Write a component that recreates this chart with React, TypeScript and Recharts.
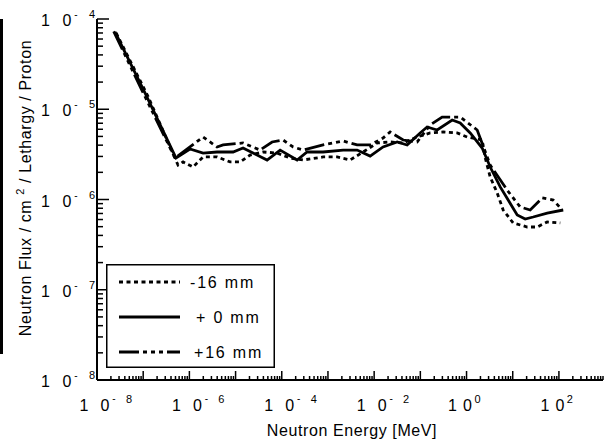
import React from 'react';
import { LineChart, Line, XAxis, YAxis, Legend } from 'recharts';

const FONT = '"Liberation Sans", Arial, Helvetica, sans-serif';

const seriesNames = ['-16 mm', '+ 0 mm', '+16 mm'];

// Neutron energy [MeV] vs flux per lethargy per proton
const fluxMinus16 = [
  { energy: 2.6e-8, flux: 7.0e-5 },
  { energy: 1.28e-7, flux: 1.38e-5 },
  { energy: 5.67e-7, flux: 2.41e-6 },
  { energy: 7.3e-7, flux: 2.61e-6 },
  { energy: 1.2e-6, flux: 2.29e-6 },
  { energy: 1.98e-6, flux: 2.96e-6 },
  { energy: 3.97e-6, flux: 2.96e-6 },
  { energy: 7.6e-6, flux: 2.61e-6 },
  { energy: 1.25e-5, flux: 2.61e-6 },
  { energy: 2.06e-5, flux: 3.11e-6 },
  { energy: 3.94e-5, flux: 3.36e-6 },
  { energy: 7.93e-5, flux: 3.27e-6 },
  { energy: 1.51e-4, flux: 2.88e-6 },
  { energy: 2.9e-4, flux: 2.74e-6 },
  { energy: 7.85e-4, flux: 2.96e-6 },
  { energy: 1.58e-3, flux: 2.96e-6 },
  { energy: 3.02e-3, flux: 2.74e-6 },
  { energy: 5.77e-3, flux: 3.36e-6 },
  { energy: 1.16e-2, flux: 4.23e-6 },
  { energy: 2.22e-2, flux: 4.34e-6 },
  { energy: 4.25e-2, flux: 4.23e-6 },
  { energy: 8.53e-2, flux: 4.93e-6 },
  { energy: 0.163, flux: 5.46e-6 },
  { energy: 0.312, flux: 5.6e-6 },
  { energy: 0.627, flux: 5.46e-6 },
  { energy: 1.03, flux: 4.93e-6 },
  { energy: 2.18, flux: 4.56e-6 },
  { energy: 2.54, flux: 2.88e-6 },
  { energy: 3.25, flux: 1.78e-6 },
  { energy: 4.61, flux: 1.18e-6 },
  { energy: 6.22, flux: 7.65e-7 },
  { energy: 10.2, flux: 5.5e-7 },
  { energy: 20.6, flux: 4.96e-7 },
  { energy: 33.9, flux: 4.96e-7 },
  { energy: 55.8, flux: 5.64e-7 },
  { energy: 107, flux: 5.5e-7 },
];

const fluxZero = [
  { energy: 2.45e-8, flux: 7.18e-5 },
  { energy: 1.1e-7, flux: 1.51e-5 },
  { energy: 5.14e-7, flux: 2.88e-6 },
  { energy: 1.03e-6, flux: 3.63e-6 },
  { energy: 1.98e-6, flux: 3.27e-6 },
  { energy: 3.97e-6, flux: 3.36e-6 },
  { energy: 8.83e-6, flux: 3.36e-6 },
  { energy: 1.45e-5, flux: 3.72e-6 },
  { energy: 2.39e-5, flux: 3.27e-6 },
  { energy: 4.81e-5, flux: 2.74e-6 },
  { energy: 9.21e-5, flux: 3.53e-6 },
  { energy: 2.15e-4, flux: 2.74e-6 },
  { energy: 3.53e-4, flux: 3.36e-6 },
  { energy: 7.85e-4, flux: 3.36e-6 },
  { energy: 2.13e-3, flux: 3.53e-6 },
  { energy: 4.28e-3, flux: 3.53e-6 },
  { energy: 8.18e-3, flux: 3.03e-6 },
  { energy: 1.56e-2, flux: 3.82e-6 },
  { energy: 3.15e-2, flux: 4.34e-6 },
  { energy: 5.18e-2, flux: 4.02e-6 },
  { energy: 9.91e-2, flux: 5.46e-6 },
  { energy: 0.14, flux: 6.36e-6 },
  { energy: 0.231, flux: 5.89e-6 },
  { energy: 0.489, flux: 7.6e-6 },
  { energy: 0.728, flux: 7.05e-6 },
  { energy: 1.2, flux: 5.46e-6 },
  { energy: 2.18, flux: 3.72e-6 },
  { energy: 3.25, flux: 2.29e-6 },
  { energy: 5.36, flux: 1.38e-6 },
  { energy: 12.5, flux: 6.73e-7 },
  { energy: 18.6, flux: 6.08e-7 },
  { energy: 27.7, flux: 6.4e-7 },
  { energy: 55.8, flux: 7.08e-7 },
  { energy: 124, flux: 7.65e-7 },
];

const fluxPlus16 = [
  { energy: 2.3e-8, flux: 7.3e-5 },
  { energy: 9.4e-8, flux: 1.62e-5 },
  { energy: 4.89e-7, flux: 2.88e-6 },
  { energy: 1.03e-6, flux: 3.82e-6 },
  { energy: 1.98e-6, flux: 4.93e-6 },
  { energy: 3.97e-6, flux: 3.82e-6 },
  { energy: 5.36e-6, flux: 4.02e-6 },
  { energy: 1.45e-5, flux: 4.23e-6 },
  { energy: 3.39e-5, flux: 3.53e-6 },
  { energy: 6.17e-5, flux: 4.34e-6 },
  { energy: 1.07e-4, flux: 4.56e-6 },
  { energy: 1.76e-4, flux: 3.82e-6 },
  { energy: 2.9e-4, flux: 3.53e-6 },
  { energy: 7.85e-4, flux: 4.02e-6 },
  { energy: 2.13e-3, flux: 4.45e-6 },
  { energy: 4.28e-3, flux: 4.02e-6 },
  { energy: 8.18e-3, flux: 4.02e-6 },
  { energy: 1.56e-2, flux: 4.8e-6 },
  { energy: 2.22e-2, flux: 5.6e-6 },
  { energy: 4.25e-2, flux: 4.56e-6 },
  { energy: 8.53e-2, flux: 4.34e-6 },
  { energy: 0.163, flux: 6.69e-6 },
  { energy: 0.296, flux: 8.2e-6 },
  { energy: 0.728, flux: 8.2e-6 },
  { energy: 1.7, flux: 5.89e-6 },
  { energy: 3.25, flux: 2.41e-6 },
  { energy: 7.59, flux: 1.27e-6 },
  { energy: 14.5, flux: 8.26e-7 },
  { energy: 23.9, flux: 7.65e-7 },
  { energy: 43.5, flux: 1.04e-6 },
  { energy: 75.3, flux: 9.87e-7 },
  { energy: 118, flux: 7.65e-7 },
];

const xDecades = [-8, -7, -6, -5, -4, -3, -2, -1, 0, 1, 2];
const xLabelExponents = [-8, -6, -4, -2, 0, 2];
const yDecades = [-8, -7, -6, -5, -4];
const minorMultipliers = [2, 3, 4, 5, 6, 7, 8, 9];
const xDomain: [number, number] = [1e-8, 900];
const yDomain: [number, number] = [1e-8, 1e-4];

function buildTicks(decades: number[], max: number) {
  const t: number[] = [];
  decades.forEach((e) => {
    const base = Math.pow(10, e);
    if (base <= max * 1.0001) t.push(base);
    minorMultipliers.forEach((m) => {
      const v = m * base;
      if (v <= max * 1.0001) t.push(v);
    });
  });
  return t;
}
const xTicks = buildTicks(xDecades, xDomain[1]);
const yTicks = buildTicks(yDecades, yDomain[1]);

const seriesStyle: Record<string, { dash?: string }> = {
  '-16 mm': { dash: '4 3.5' },
  '+ 0 mm': { dash: undefined },
  '+16 mm': { dash: '20 4 4 4 4 4 4 4' },
};

function exponentOf(v: number) {
  const l = Math.log10(v);
  const r = Math.round(l);
  return Math.abs(l - r) < 1e-6 ? r : null;
}

function XTick(props: any) {
  const { x, y, payload, side } = props;
  const exp = exponentOf(payload.value);
  const len = exp !== null ? 9 : 4;
  const dir = side === 'bottom' ? -1 : 1;
  const showLabel = side === 'bottom' && exp !== null && xLabelExponents.includes(exp);
  return (
    <g>
      <line x1={x} y1={y} x2={x} y2={y + dir * len} stroke="#000" strokeWidth={1.5} />
      {showLabel && exp !== null && exp < 0 && (
        <g fontFamily={FONT} fill="#000">
          <text x={x - 13} y={y + 31} fontSize={16} textAnchor="middle">1</text>
          <text x={x + 8} y={y + 31} fontSize={16} textAnchor="middle">0</text>
          <text x={x + 17} y={y + 22} fontSize={10} textAnchor="middle">-</text>
          <text x={x + 32} y={y + 23} fontSize={11} textAnchor="middle">{String(-exp)}</text>
        </g>
      )}
      {showLabel && exp !== null && exp >= 0 && (
        <g fontFamily={FONT} fill="#000">
          <text x={x - 14} y={y + 31} fontSize={16} textAnchor="middle">1</text>
          <text x={x + 1} y={y + 31} fontSize={16} textAnchor="middle">0</text>
          <text x={x + 11} y={y + 23} fontSize={11} textAnchor="middle">{String(exp)}</text>
        </g>
      )}
    </g>
  );
}

function YTick(props: any) {
  const { x, y, payload, side } = props;
  const exp = exponentOf(payload.value);
  const len = exp !== null ? 12 : 6;
  const dir = side === 'left' ? 1 : -1;
  const showLabel = side === 'left' && exp !== null;
  return (
    <g>
      <line x1={x} y1={y} x2={x + dir * len} y2={y} stroke="#000" strokeWidth={1.5} />
      {showLabel && exp !== null && (
        <g fontFamily={FONT} fill="#000">
          <text x={x - 51.5} y={y + 7} fontSize={16} textAnchor="middle">1</text>
          <text x={x - 30} y={y + 7} fontSize={16} textAnchor="middle">0</text>
          <text x={x - 21} y={y - 1} fontSize={10} textAnchor="middle">-</text>
          <text x={x - 5} y={y - 1} fontSize={11} textAnchor="middle">{String(-exp)}</text>
        </g>
      )}
    </g>
  );
}

const legendRows = [
  { y: 18, textX: 84 },
  { y: 53, textX: 90 },
  { y: 88, textX: 88 },
];

function renderLegend(props: any) {
  const payload = [...(props.payload || [])].sort(
    (a: any, b: any) => seriesNames.indexOf(a.value) - seriesNames.indexOf(b.value)
  );
  return (
    <svg width={169} height={104} style={{ display: 'block' }}>
      <rect x={0.75} y={0.75} width={167.5} height={102.5} fill="#fff" stroke="#000" strokeWidth={1.5} />
      {payload.map((entry: any, i: number) => {
        const row = legendRows[i] || legendRows[0];
        const st = seriesStyle[entry.value] || {};
        return (
          <g key={entry.value}>
            <line x1={13} y1={row.y} x2={74} y2={row.y} stroke="#000" strokeWidth={2.8} strokeDasharray={st.dash} />
            <text x={row.textX} y={row.y + 6} fontSize={16} fontFamily={FONT} letterSpacing={1.8} fill="#000">
              {entry.value}
            </text>
          </g>
        );
      })}
    </svg>
  );
}

const renderYTitle = () => (
  <text transform="translate(31,188) rotate(-90)" textAnchor="middle" fontFamily={FONT} fontSize={16} letterSpacing={0.6} fill="#000">
    Neutron Flux / cm <tspan dy={-7} fontSize={11}>2</tspan><tspan dy={7}>  / Lethargy / Proton</tspan>
  </text>
);

const renderXTitle = () => (
  <text x={352} y={436} textAnchor="middle" fontFamily={FONT} fontSize={16} letterSpacing={0.6} fill="#000">
    Neutron Energy [MeV]
  </text>
);

const renderPanelTitle = () => (
  <text x={326} y={57} textAnchor="start" fontFamily={FONT} fontSize={17} letterSpacing={1.4} fill="#000">
    Beam Position Dependence
  </text>
);

export default function App() {
  const axisLine = { stroke: '#000', strokeWidth: 2 };
  return (
    <div style={{ position: 'absolute', left: 0, top: 0, width: 606, height: 444, background: '#fff' }}>
      <div style={{ position: 'absolute', left: 0, top: 19, width: 3, height: 335, background: '#000' }} />
      <LineChart width={606} height={444} margin={{ top: 19, right: 3, bottom: 0, left: 0 }}>
        <XAxis
          xAxisId="b"
          type="number"
          dataKey="energy"
          scale="log"
          domain={xDomain}
          allowDataOverflow
          ticks={xTicks}
          interval={0}
          tickSize={0}
          tickMargin={0}
          tickLine={false}
          axisLine={axisLine}
          height={64}
          tick={(p: any) => <XTick {...p} side="bottom" />}
          label={renderXTitle}
        />
        <XAxis
          xAxisId="t"
          orientation="top"
          type="number"
          dataKey="energy"
          scale="log"
          domain={xDomain}
          allowDataOverflow
          ticks={xTicks}
          interval={0}
          tickSize={0}
          tickMargin={0}
          tickLine={false}
          axisLine={axisLine}
          height={0}
          tick={(p: any) => <XTick {...p} side="top" />}
          label={renderPanelTitle}
        />
        <YAxis
          yAxisId="l"
          type="number"
          scale="log"
          domain={yDomain}
          allowDataOverflow
          ticks={yTicks}
          interval={0}
          tickSize={0}
          tickMargin={0}
          tickLine={false}
          axisLine={axisLine}
          width={97}
          tick={(p: any) => <YTick {...p} side="left" />}
          label={renderYTitle}
        />
        <YAxis
          yAxisId="r"
          orientation="right"
          type="number"
          scale="log"
          domain={yDomain}
          allowDataOverflow
          ticks={yTicks}
          interval={0}
          tickSize={0}
          tickMargin={0}
          tickLine={false}
          axisLine={axisLine}
          width={0}
          tick={(p: any) => <YTick {...p} side="right" />}
        />
        <Legend
          layout="vertical"
          align="center"
          verticalAlign="middle"
          wrapperStyle={{ position: 'absolute', left: 106, top: 264, width: 169, height: 104, margin: 0, padding: 0 }}
          content={renderLegend}
        />
        <Line xAxisId="b" yAxisId="l" name={seriesNames[0]} data={fluxMinus16} dataKey="flux" type="linear" stroke="#000" strokeWidth={2.8} strokeDasharray="4 3.5" dot={false} activeDot={false} isAnimationActive={false} />
        <Line xAxisId="b" yAxisId="l" name={seriesNames[1]} data={fluxZero} dataKey="flux" type="linear" stroke="#000" strokeWidth={2.8} dot={false} activeDot={false} isAnimationActive={false} />
        <Line xAxisId="b" yAxisId="l" name={seriesNames[2]} data={fluxPlus16} dataKey="flux" type="linear" stroke="#000" strokeWidth={2.8} strokeDasharray="20 4 4 4 4 4 4 4" dot={false} activeDot={false} isAnimationActive={false} />
      </LineChart>
    </div>
  );
}
